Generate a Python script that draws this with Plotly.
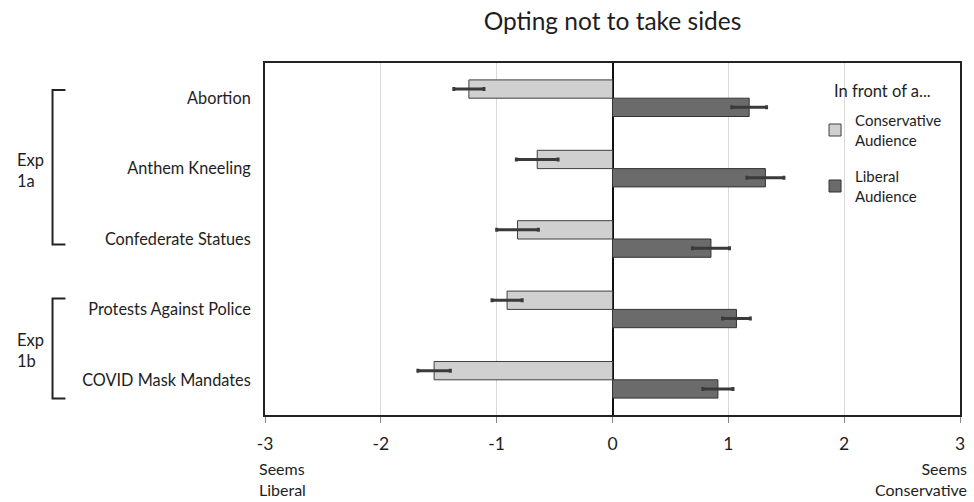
import plotly.graph_objects as go

categories = ["Abortion", "Anthem Kneeling", "Confederate Statues",
              "Protests Against Police", "COVID Mask Mandates"]
conservative_vals = [-1.24, -0.65, -0.82, -0.91, -1.54]
conservative_err = [0.13, 0.18, 0.18, 0.13, 0.14]
liberal_vals = [1.18, 1.32, 0.85, 1.07, 0.91]
liberal_err = [0.15, 0.16, 0.16, 0.12, 0.13]
series_names = ["Conservative<br>Audience", "Liberal<br>Audience"]
legend_title = "In front of a..."
x_ticks = [-3, -2, -1, 0, 1, 2, 3]

FONT = "Lato"
TXT = "#1e1e1e"

fig = go.Figure()
fig.add_trace(go.Bar(
    y=categories, x=conservative_vals, orientation="h", name=series_names[0],
    legendgroup="c",
    marker=dict(color="#d0d0d0", line=dict(color="#3f3f3f", width=1)),
    error_x=dict(type="data", array=conservative_err, color="#3a3a3a", thickness=3, width=2),
))
fig.add_trace(go.Bar(
    y=categories, x=liberal_vals, orientation="h", name=series_names[1],
    legendgroup="l",
    marker=dict(color="#6b6b6b", line=dict(color="#333333", width=1)),
    error_x=dict(type="data", array=liberal_err, color="#3a3a3a", thickness=3, width=2),
))


def px_x(p):
    return (p - 265) / 700


def px_y(p):
    return (415 - p) / 352


fig.update_layout(
    width=974, height=502,
    margin=dict(l=265, r=9, t=63, b=87),
    paper_bgcolor="white", plot_bgcolor="white",
    barmode="group", bargap=0.48, bargroupgap=0,
    font=dict(family=FONT, color=TXT),
    title=dict(text="Opting not to take sides", x=0.5, xref="paper",
               y=1 - 21 / 502, yref="container", yanchor="middle", xanchor="center",
               font=dict(size=24.5, family=FONT, color=TXT)),
    showlegend=True,
    legend=dict(
        font=dict(size=15, family=FONT, color=TXT),
        x=px_x(819), xanchor="left", y=px_y(104), yanchor="top",
        tracegroupgap=14, bgcolor="rgba(0,0,0,0)",
    ),
    xaxis=dict(
        range=[-3, 3], tickvals=x_ticks, ticktext=[str(v) for v in x_ticks],
        showgrid=True, gridcolor="#d9d9d9", gridwidth=1,
        zeroline=True, zerolinecolor="#111111", zerolinewidth=2,
        showline=True, linecolor="#222222", linewidth=2, mirror=True,
        ticks="outside", ticklen=6, tickcolor="#888888", tickwidth=1,
        tickfont=dict(size=17.5, family=FONT, color=TXT),
        ticklabelstandoff=6,
    ),
    yaxis=dict(
        autorange="reversed", showgrid=False,
        showline=True, linecolor="#222222", linewidth=2, mirror=True,
        ticks="", tickfont=dict(size=16.3, family=FONT, color=TXT),
        ticklabelstandoff=9,
    ),
)

fig.add_annotation(text=legend_title, xref="paper", yref="paper",
                   x=px_x(836), y=px_y(91), xanchor="left", yanchor="middle",
                   showarrow=False, font=dict(size=16.5, family=FONT, color=TXT))

shape_line = dict(color="#222222", width=2)
for top, bot in [(90, 244.5), (298.4, 398.5)]:
    fig.add_shape(type="path", xref="paper", yref="paper",
                  path=f"M {px_x(64)} {px_y(top)} L {px_x(51)} {px_y(top)} "
                       f"L {px_x(51)} {px_y(bot)} L {px_x(64)} {px_y(bot)}",
                  line=shape_line)

for txt, cy in [("Exp<br>1a", 170), ("Exp<br>1b", 350)]:
    fig.add_annotation(text=txt, xref="paper", yref="paper", x=px_x(13), y=px_y(cy),
                       xanchor="left", yanchor="middle", align="left", showarrow=False,
                       font=dict(size=16.5, family=FONT, color=TXT))

fig.add_annotation(text="Seems<br>Liberal", xref="paper", yref="paper",
                   x=px_x(257), y=px_y(479), xanchor="left", yanchor="middle", align="left",
                   showarrow=False, font=dict(size=16, family=FONT, color=TXT))
fig.add_annotation(text="Seems<br>Conservative", xref="paper", yref="paper",
                   x=px_x(974), y=px_y(479), xanchor="right", yanchor="middle", align="right",
                   showarrow=False, font=dict(size=16, family=FONT, color=TXT))

fig.write_html("out.html")
